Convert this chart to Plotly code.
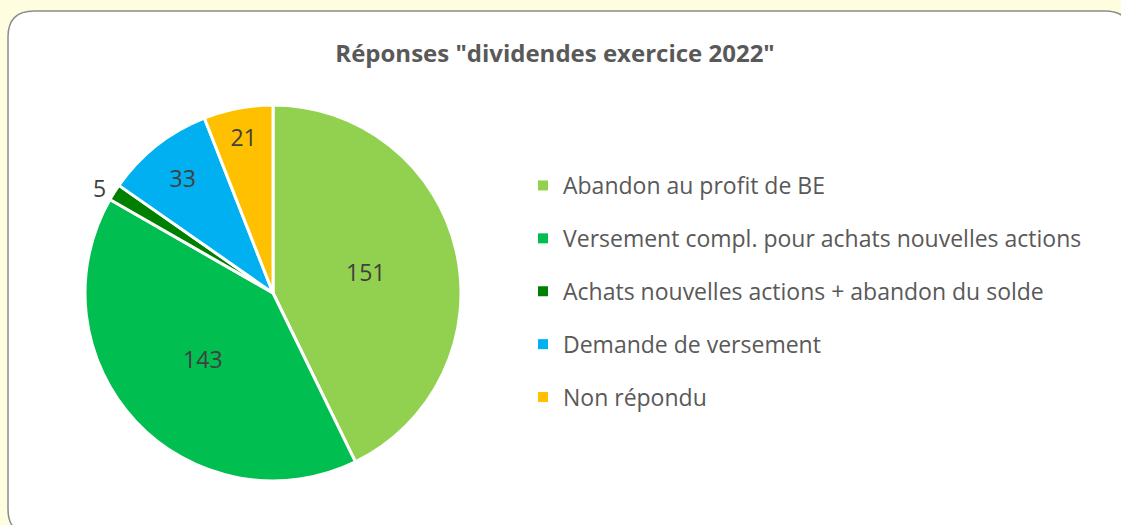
import plotly.graph_objects as go

# Data
categories = [
    "Abandon au profit de BE",
    "Versement compl. pour achats nouvelles actions",
    "Achats nouvelles actions + abandon du solde",
    "Demande de versement",
    "Non répondu",
]
values = [151, 143, 5, 33, 21]
colors = ["#92D050", "#00BF50", "#008000", "#00B0F0", "#FFC000"]
label_pos = ["inside", "inside", "outside", "inside", "inside"]

W, H = 1121, 525
FONT = "Open Sans"


def px(x, y):
    """pixel -> paper coords (margins are zero)"""
    return x / W, 1 - y / H


def rounded_box(x0, y0, x1, y1, r):
    def p(x, y):
        a, b = px(x, y)
        return f"{a:.5f},{b:.5f}"
    return (
        f"M {p(x0 + r, y0)} L {p(x1 - r, y0)} Q {p(x1, y0)} {p(x1, y0 + r)} "
        f"L {p(x1, y1 - r)} Q {p(x1, y1)} {p(x1 - r, y1)} "
        f"L {p(x0 + r, y1)} Q {p(x0, y1)} {p(x0, y1 - r)} "
        f"L {p(x0, y0 + r)} Q {p(x0, y0)} {p(x0 + r, y0)} Z"
    )


fig = go.Figure()

# pie domain in pixels
cx, cy, R = 273, 293, 188
dx0, dy1 = px(cx - R, cy + R)
dx1, dy0 = px(cx + R, cy - R)

fig.add_trace(go.Pie(
    labels=categories,
    values=values,
    sort=False,
    direction="clockwise",
    rotation=0,
    marker=dict(colors=colors, line=dict(color="white", width=3)),
    textinfo="value",
    textposition=label_pos,
    insidetextorientation="horizontal",
    textfont=dict(family=FONT, size=23, color="#404040"),
    domain=dict(x=[dx0, dx1], y=[dy1, dy0]),
    showlegend=False,
    hoverinfo="label+value+percent",
))

# legend entries (one group each so the spacing can match)
for i, (name, col) in enumerate(zip(categories, colors)):
    fig.add_trace(go.Scatter(
        x=[None], y=[None],
        mode="markers",
        marker=dict(symbol="square", size=10, color=col),
        name=name,
        legendgroup=f"g{i}",
    ))

lx, ly = px(523, 164)

fig.update_layout(
    width=W, height=H,
    margin=dict(l=0, r=0, t=0, b=0),
    paper_bgcolor="#FFFDDF",
    plot_bgcolor="rgba(0,0,0,0)",
    xaxis=dict(visible=False),
    yaxis=dict(visible=False),
    font=dict(family=FONT, color="#595959"),
    title=dict(
        text="<b>Réponses \"dividendes exercice 2022\"</b>",
        x=px(555, 0)[0], xanchor="center",
        y=px(0, 54)[1], yanchor="middle",
        font=dict(family=FONT, size=24, color="#595959"),
    ),
    legend=dict(
        x=lx, y=ly, xanchor="left", yanchor="top",
        font=dict(family=FONT, size=23, color="#595959"),
        tracegroupgap=20,
        bgcolor="rgba(0,0,0,0)",
    ),
    shapes=[dict(
        type="path",
        path=rounded_box(8, 11, 1131, 535, 26),
        xref="paper", yref="paper",
        fillcolor="white",
        line=dict(color="#8C8C8C", width=1.5),
        layer="below",
    )],
)

fig.write_html(
    "out.html",
    config={"displayModeBar": False},
    post_script="document.body.style.margin='0';",
)
